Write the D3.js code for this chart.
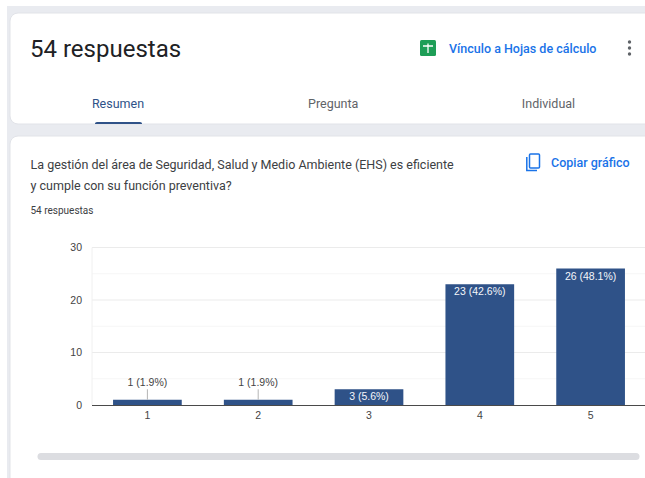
<!DOCTYPE html>
<html>
<head>
<meta charset="utf-8">
<script src="https://cdn.jsdelivr.net/npm/d3@7"></script>
<style>
  html, body { margin: 0; padding: 0; background: #fff; overflow: hidden; }
  svg { display: block; }
  text { font-family: Roboto, Arial, sans-serif; }
</style>
</head>
<body>
<div id="chart"></div>
<script>
// Chart values
const categories = ["1", "2", "3", "4", "5"];
const counts = [1, 1, 3, 23, 26];
const percents = ["1.9", "1.9", "5.6", "42.6", "48.1"];
const yTicks = [0, 10, 20, 30];
const yGrid = [5, 15, 25];
const tabs = ["Resumen", "Pregunta", "Individual"];

const width = 645;
const height = 478;
const barColor = "#2f5288";

const svg = d3.select("#chart").append("svg")
  .attr("width", width)
  .attr("height", height);

// Page background and cards
svg.append("rect").attr("x", 7).attr("y", 6).attr("width", width).attr("height", height)
  .attr("fill", "#e9ebf0");
svg.append("rect").attr("x", 10).attr("y", 13).attr("width", width).attr("height", 111).attr("rx", 8)
  .attr("fill", "#fff").attr("stroke", "#e1e3e8");
svg.append("rect").attr("x", 10).attr("y", 136).attr("width", width).attr("height", 360).attr("rx", 8)
  .attr("fill", "#fff").attr("stroke", "#e1e3e8");

// Header
svg.append("text").attr("x", 30).attr("y", 57)
  .attr("font-size", 24).attr("fill", "#202124").text("54 respuestas");

const sheetIcon = svg.append("g").attr("transform", "translate(420,40)");
sheetIcon.append("rect").attr("width", 16).attr("height", 16).attr("rx", 1.5).attr("fill", "#1e9e57");
sheetIcon.append("path").attr("d", "M3 6H13M8 3.5V13").attr("stroke", "#fff").attr("stroke-width", 1.3);

svg.append("text").attr("x", 449).attr("y", 52.5)
  .attr("font-size", 12.5).attr("font-weight", 500).attr("fill", "#1a73e8").text("Vínculo a Hojas de cálculo");

svg.selectAll(".menu-dot")
  .data([42, 48, 54])
  .enter().append("circle")
  .attr("class", "menu-dot")
  .attr("cx", 629.5)
  .attr("cy", d => d)
  .attr("r", 1.7)
  .attr("fill", "#5f6368");

// Tabs
const tabX = d3.scalePoint().domain(tabs).range([118, 548.5]);
svg.selectAll(".tab")
  .data(tabs)
  .enter().append("text")
  .attr("class", "tab")
  .attr("x", d => tabX(d))
  .attr("y", 108)
  .attr("text-anchor", "middle")
  .attr("font-size", 12.5)
  .attr("fill", d => d === "Resumen" ? "#2f5288" : "#5f6368")
  .text(d => d);
svg.append("path").attr("d", "M95 124V123.5Q95 122 97 122H140Q142 122 142 123.5V124Z").attr("fill", "#2f5288");

// Question
svg.append("text").attr("x", 30.5).attr("y", 169)
  .attr("font-size", 12.5).attr("fill", "#3c4043")
  .text("La gestión del área de Seguridad, Salud y Medio Ambiente (EHS) es eficiente");
svg.append("text").attr("x", 30.5).attr("y", 190)
  .attr("font-size", 12.5).attr("fill", "#3c4043")
  .text("y cumple con su función preventiva?");
svg.append("text").attr("x", 30.5).attr("y", 214)
  .attr("font-size", 10).attr("fill", "#3c4043").text("54 respuestas");

// Copy icon
const copyIcon = svg.append("g").attr("transform", "translate(526,153)")
  .attr("fill", "none").attr("stroke", "#1a73e8").attr("stroke-width", 1.5);
copyIcon.append("rect").attr("x", 3.5).attr("y", 1).attr("width", 10).attr("height", 14).attr("rx", 1);
copyIcon.append("path").attr("d", "M0.8 4V17.5H11");

svg.append("text").attr("x", 551).attr("y", 167)
  .attr("font-size", 12.5).attr("font-weight", 500).attr("fill", "#1a73e8").text("Copiar gráfico");

// Scales
const x = d3.scaleBand().domain(categories).range([92, 646]).paddingInner(0.38).paddingOuter(0.19);
const y = d3.scaleLinear().domain([0, 30]).range([405, 247.5]);

// Grid
const grid = svg.append("g");
grid.selectAll(".minor")
  .data(yGrid)
  .enter().append("line")
  .attr("class", "minor")
  .attr("x1", 92).attr("x2", width)
  .attr("y1", d => y(d)).attr("y2", d => y(d))
  .attr("stroke", "#f6f6f6");
grid.selectAll(".major")
  .data(yTicks.filter(d => d > 0))
  .enter().append("line")
  .attr("class", "major")
  .attr("x1", 92).attr("x2", width)
  .attr("y1", d => y(d)).attr("y2", d => y(d))
  .attr("stroke", "#ebebeb");
grid.append("line").attr("x1", 92).attr("x2", 92).attr("y1", y(30)).attr("y2", y(0)).attr("stroke", "#f0f0f0");

// Y axis labels
const yAxis = svg.append("g")
  .attr("transform", "translate(82,0)")
  .call(d3.axisLeft(y).tickValues(yTicks).tickSize(0).tickPadding(0));
yAxis.select(".domain").remove();
yAxis.selectAll("text").attr("font-size", 10.5).attr("fill", "#444")
  .style("font-family", "Arial, 'Liberation Sans', sans-serif");

// Bars
const bars = categories.map((c, i) => ({ c, count: counts[i], pct: percents[i] }));

svg.selectAll(".bar")
  .data(bars)
  .enter().append("rect")
  .attr("class", "bar")
  .attr("x", d => x(d.c))
  .attr("y", d => y(d.count))
  .attr("width", x.bandwidth())
  .attr("height", d => y(0) - y(d.count))
  .attr("fill", barColor);

// Labels: inside the bar when tall enough, otherwise above it with a leader line
const isSmall = d => d.count < 3;

svg.selectAll(".leader")
  .data(bars.filter(isSmall))
  .enter().append("line")
  .attr("class", "leader")
  .attr("x1", d => x(d.c) + x.bandwidth() / 2)
  .attr("x2", d => x(d.c) + x.bandwidth() / 2)
  .attr("y1", d => y(d.count))
  .attr("y2", d => y(d.count) - 10.5)
  .attr("stroke", "#b5b5b5");

svg.selectAll(".bar-label")
  .data(bars)
  .enter().append("text")
  .attr("class", "bar-label")
  .attr("x", d => x(d.c) + x.bandwidth() / 2)
  .attr("y", d => isSmall(d) ? y(d.count) - 13.5 : y(d.count) + 11)
  .attr("text-anchor", "middle")
  .attr("font-size", 10.5)
  .attr("fill", d => isSmall(d) ? "#444" : "#f4f6fa")
  .style("font-family", "Arial, 'Liberation Sans', sans-serif")
  .text(d => `${d.count} (${d.pct}%)`);

// X axis
const xAxis = svg.append("g")
  .attr("transform", "translate(0,405)")
  .call(d3.axisBottom(x).tickSize(0).tickPadding(7));
xAxis.select(".domain").remove();
xAxis.selectAll("text").attr("font-size", 10.5).attr("fill", "#444")
  .style("font-family", "Arial, 'Liberation Sans', sans-serif");
svg.append("line").attr("x1", 92).attr("x2", width).attr("y1", 405.5).attr("y2", 405.5)
  .attr("stroke", "#4a4a4a").attr("stroke-width", 1.2);

// Scrollbar
svg.append("rect").attr("x", 37.5).attr("y", 453).attr("width", 602).attr("height", 7).attr("rx", 3.5)
  .attr("fill", "#dcdde1");
</script>
</body>
</html>
